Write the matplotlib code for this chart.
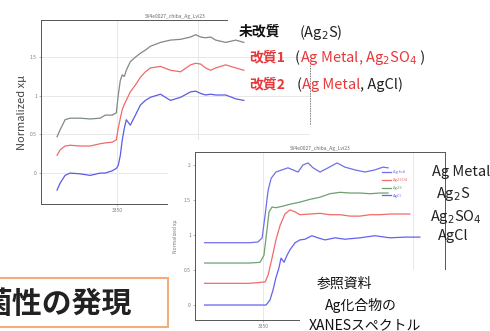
import matplotlib
matplotlib.use("Agg")
import matplotlib.pyplot as plt
from matplotlib.patches import Rectangle
from matplotlib.lines import Line2D
from matplotlib.offsetbox import TextArea, HPacker, AnnotationBbox

plt.rcParams['font.family'] = ['Noto Sans CJK JP', 'DejaVu Sans']

# ---------------- data: treated samples (top panel) ----------------
energy_top = [3312.5, 3314.4, 3317.5, 3320.6, 3326.9, 3333.1, 3339.4, 3342.5, 3346.9, 3349.4,
              3350.6, 3351.9, 3353.1, 3354.4, 3355.6, 3358.1, 3361.3, 3364.4, 3367.5, 3370.6,
              3376.9, 3383.1, 3389.4, 3395.6, 3398.8, 3401.9, 3405.0, 3408.1, 3411.3, 3417.5,
              3423.8, 3428.8]
mu_untreated = [0.47, 0.56, 0.69, 0.71, 0.71, 0.70, 0.71, 0.75, 0.75, 0.78,
                1.01, 1.20, 1.27, 1.25, 1.33, 1.44, 1.50, 1.55, 1.59, 1.64,
                1.69, 1.72, 1.73, 1.76, 1.79, 1.76, 1.75, 1.76, 1.72, 1.69,
                1.72, 1.69]
mu_treated1 = [0.23, 0.30, 0.35, 0.36, 0.35, 0.35, 0.38, 0.39, 0.40, 0.43,
               0.58, 0.71, 0.82, 0.89, 0.94, 1.05, 1.14, 1.24, 1.31, 1.36,
               1.38, 1.33, 1.31, 1.40, 1.42, 1.41, 1.36, 1.33, 1.36, 1.40,
               1.36, 1.33]
mu_treated2 = [-0.22, -0.13, -0.03, 0.00, -0.01, -0.03, 0.00, 0.00, 0.03, 0.06,
               0.10, 0.23, 0.43, 0.58, 0.69, 0.62, 0.75, 0.88, 0.94, 0.98,
               1.02, 0.94, 0.98, 1.05, 1.06, 1.03, 1.01, 1.02, 1.01, 1.01,
               0.96, 0.94]

# ---------------- data: reference compounds (inset panel) ----------------
energy_metal = [3330.5, 3339, 3345.5, 3348.3, 3349.7, 3350.7, 3351.7, 3352.7, 3354.3, 3356.3,
                3358.3, 3360, 3361.7, 3363.3, 3365, 3366.7, 3369, 3371.7, 3374.7, 3377.3,
                3380.7, 3384, 3387.3, 3390, 3391.7]
mu_metal = [0.89, 0.89, 0.89, 0.90, 0.96, 1.29, 1.64, 1.81, 1.90, 1.93,
            1.96, 1.93, 1.90, 2.00, 2.03, 1.96, 1.90, 1.96, 2.03, 1.97,
            1.93, 1.90, 1.93, 1.97, 1.96]
energy_ag2s = [3330.5, 3339, 3345.5, 3349, 3350.3, 3351.3, 3352, 3353, 3354.3, 3356.3,
               3359, 3362.3, 3365.7, 3369, 3372.3, 3375.7, 3379, 3382.3, 3385.7, 3389, 3391.7]
mu_ag2s = [0.60, 0.60, 0.60, 0.61, 0.71, 1.07, 1.33, 1.40, 1.39, 1.41,
           1.44, 1.47, 1.51, 1.54, 1.59, 1.61, 1.60, 1.60, 1.59, 1.60, 1.60]
energy_ag2so4 = [3330.5, 3339, 3345.5, 3350.7, 3351.7, 3353, 3354.3, 3355.7, 3357.3, 3359,
                 3360.7, 3362.3, 3365.7, 3369, 3372.3, 3375.7, 3379, 3382.3, 3385.7, 3389,
                 3392.3, 3395.7, 3399]
mu_ag2so4 = [0.31, 0.31, 0.31, 0.33, 0.43, 0.67, 0.93, 1.14, 1.30, 1.36,
             1.33, 1.29, 1.30, 1.31, 1.29, 1.29, 1.27, 1.27, 1.29, 1.29,
             1.30, 1.30, 1.30]
energy_agcl = [3330.5, 3339, 3345.5, 3351, 3352.3, 3353.3, 3354.3, 3355.3, 3356, 3357,
               3358, 3359, 3360.7, 3362.3, 3364, 3366.3, 3368.3, 3370.7, 3374, 3377.3,
               3382.3, 3387.3, 3392.3, 3397.3, 3402.3]
mu_agcl = [0.00, 0.00, 0.00, 0.00, 0.07, 0.21, 0.39, 0.53, 0.67, 0.61,
           0.71, 0.79, 0.89, 0.93, 0.94, 0.99, 0.96, 0.93, 0.96, 0.94,
           0.96, 0.99, 0.96, 0.97, 0.97]

top_ticks_y = [0, 0.5, 1, 1.5]
top_tick_labels_y = ['0', '0.5', '1', '1.5']
inset_ticks_y = [0, 0.5, 1, 1.5, 2]
inset_tick_labels_y = ['0', '0.5', '1', '1.5', '2']
ticks_x = [3350, 3400]
tick_labels_x = ['3350', '']
ref_legend = ['Ag foil', 'Ag2SO4', 'Ag2S', 'AgCl']
ref_labels = ['Ag Metal', 'Ag$_2$S', 'Ag$_2$SO$_4$', 'AgCl']

W, H = 490, 331
fig = plt.figure(figsize=(W / 100, H / 100), dpi=100)


def rect(l, t, r, b):
    return [l / W, 1 - b / H, (r - l) / W, (b - t) / H]


def fx(x):
    return x / W


def fy(y):
    return 1 - y / H


RED = '#e8373a'
BLK = '#222222'
spine_c = '#555555'


def colored_line(parts, x, y, fs, weight='normal'):
    boxes = [TextArea(s, textprops=dict(color=c, fontsize=fs, fontweight=weight))
             for s, c in parts]
    hp = HPacker(children=boxes, align='baseline', pad=0, sep=0)
    ab = AnnotationBbox(hp, (fx(x), fy(y)), xycoords='figure fraction',
                        box_alignment=(0, 0.5), frameon=False, pad=0, zorder=5)
    fig.add_artist(ab)


# ---------------- top panel ----------------
ax = fig.add_axes(rect(41, 20, 310, 204), zorder=1)
ax.plot(energy_top, mu_untreated, color='#7f8a80', lw=0.9)
ax.plot(energy_top, mu_treated1, color='#f06a6a', lw=0.9)
ax.plot(energy_top, mu_treated2, color='#5b5be6', lw=0.9)
ax.set_xlim(3302.5, 3470)
ax.set_ylim(-0.40, 1.98)
ax.set_xticks(ticks_x)
ax.set_xticklabels(tick_labels_x)
ax.set_yticks(top_ticks_y)
ax.set_yticklabels(top_tick_labels_y)
ax.grid(True, color='#e4e4e4', lw=0.6)
ax.tick_params(labelsize=3.5, length=1.5, width=0.4, colors='#777777', pad=1.5)
for s in ax.spines.values():
    s.set_linewidth(0.7)
    s.set_color(spine_c)
ax.spines['right'].set_visible(False)
ax.set_ylabel('Normalized xμ', fontsize=8, color='#444444', labelpad=2)
ax.set_title('SY4e0027_chiba_Ag_Lvi23', fontsize=3.5, color='#666666', pad=1.5)

# white cover over annotation area of top panel
fig.patches.append(Rectangle((fx(228), fy(26)), (W - 228) / W, 26 / H,
                             transform=fig.transFigure, facecolor='white',
                             edgecolor='none', zorder=2))
# short visible piece of the top panel's right border
fig.add_artist(Line2D([fx(310), fx(310)], [fy(65), fy(125)], color='#777777',
                      lw=0.6, ls=(0, (2, 1)), zorder=2))
# white background of the inset picture
fig.patches.append(Rectangle((fx(168), fy(H)), (W - 168) / W, (H - 140) / H,
                             transform=fig.transFigure, facecolor='white',
                             edgecolor='none', zorder=2))

# ---------------- inset panel ----------------
ax2 = fig.add_axes(rect(195, 152, 445, 320), zorder=3)
ax2.plot(energy_metal, mu_metal, color='#6f6fe8', lw=0.9, label=ref_legend[0])
ax2.plot(energy_ag2so4, mu_ag2so4, color='#f26a6a', lw=0.9, label=ref_legend[1])
ax2.plot(energy_ag2s, mu_ag2s, color='#6fa070', lw=0.9, label=ref_legend[2])
ax2.plot(energy_agcl, mu_agcl, color='#6262f0', lw=0.9, label=ref_legend[3])
ax2.set_xlim(3327.3, 3410.7)
ax2.set_ylim(-0.214, 2.186)
ax2.set_xticks(ticks_x)
ax2.set_xticklabels(tick_labels_x)
ax2.set_yticks(inset_ticks_y)
ax2.set_yticklabels(inset_tick_labels_y)
ax2.grid(True, axis='x', color='#e4e4e4', lw=0.6)
ax2.tick_params(labelsize=3.5, length=1.5, width=0.4, colors='#777777', pad=1.5)
for s in ax2.spines.values():
    s.set_linewidth(0.7)
    s.set_color(spine_c)
ax2.set_ylabel('Normalized xμ', fontsize=3.5, color='#777777', labelpad=4)
ax2.set_title('SY4e0027_chiba_Ag_Lvi23', fontsize=3.5, color='#666666', pad=1.5)
leg = ax2.legend(loc='upper left', bbox_to_anchor=(0.74, 0.90), fontsize=3,
                 frameon=False, handlelength=2.2, labelspacing=0.9,
                 handletextpad=0.5, borderaxespad=0)
for t, c in zip(leg.get_texts(), ['#6f6fe8', '#f26a6a', '#6fa070', '#6262f0']):
    t.set_color(c)

# ---------------- annotations ----------------
tz = 5
fig.text(fx(239), fy(31), '未改質', fontsize=10, fontweight='bold', color='#111111',
         va='center', ha='left', zorder=tz)
colored_line([('(Ag$_2$S)', BLK)], 299, 33, 10.5)
fig.text(fx(249), fy(57), '改質1', fontsize=10, fontweight='bold', color=RED,
         va='center', ha='left', zorder=tz)
colored_line([('(', BLK), ('Ag Metal, Ag$_2$SO$_4$', RED), (' )', BLK)], 295, 58, 10.5)
fig.text(fx(249), fy(84), '改質2', fontsize=10, fontweight='bold', color=RED,
         va='center', ha='left', zorder=tz)
colored_line([('(', BLK), ('Ag Metal', RED), (', AgCl)', BLK)], 297, 85, 10.5)

fig.text(fx(432), fy(172), ref_labels[0], fontsize=10.5, color=BLK, va='center', ha='left', zorder=tz)
fig.text(fx(453), fy(194), ref_labels[1], fontsize=10.5, color=BLK, va='center', ha='center', zorder=tz)
fig.text(fx(456), fy(217), ref_labels[2], fontsize=10.5, color=BLK, va='center', ha='center', zorder=tz)
fig.text(fx(453), fy(236), ref_labels[3], fontsize=10.5, color=BLK, va='center', ha='center', zorder=tz)

# white box behind reference caption
fig.patches.append(Rectangle((fx(300), fy(H)), (W - 300) / W, (H - 270) / H,
                             transform=fig.transFigure, facecolor='white',
                             edgecolor='none', zorder=4))
fig.text(fx(317), fy(284), '参照資料', fontsize=10, color='#111111', va='center', ha='left', zorder=tz)
fig.text(fx(325), fy(305), 'Ag化合物の', fontsize=10, color='#111111', va='center', ha='left', zorder=tz)
fig.text(fx(309), fy(325), 'XANESスペクトル', fontsize=10, color='#111111', va='center', ha='left', zorder=tz)

# bottom-left boxed heading
fig.patches.append(Rectangle((fx(-5), fy(327)), 173 / W, 49 / H,
                             transform=fig.transFigure, facecolor='white',
                             edgecolor='#f2ad7a', lw=1.5, zorder=4))
fig.text(fx(132), fy(304), '菌性の発現', fontsize=21.5, fontweight='bold', color='#222222',
         va='center', ha='right', zorder=tz)

fig.savefig('out.png', dpi=100)
